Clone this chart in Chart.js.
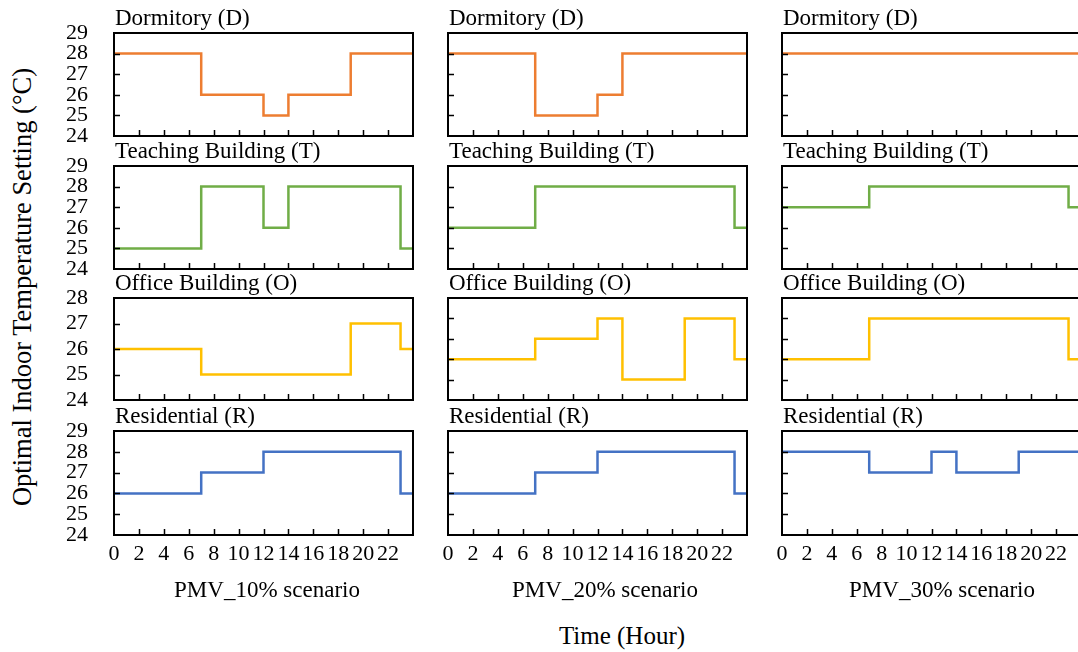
<!DOCTYPE html>
<html>
<head>
<meta charset="utf-8">
<script src="https://cdn.jsdelivr.net/npm/chart.js@4.4.1/dist/chart.umd.min.js"></script>
<style>
  html, body { margin: 0; padding: 0; overflow: hidden; background: #fff; }
  body { width: 1078px; height: 652px; position: relative; font-family: "Liberation Serif", "Times New Roman", serif; color: #000; }
  canvas { position: absolute; }
  .lbl { position: absolute; white-space: nowrap; line-height: 1; }
  .ptitle { font-size: 23px; }
  .scen { font-size: 23px; transform: translateX(-50%); top: 578px; }
  #ytitle { font-size: 26.5px; left: 22px; top: 287px; transform: translate(-50%, -50%) rotate(-90deg); }
  #xtitle { font-size: 25px; left: 622px; top: 623px; transform: translateX(-50%); }
</style>
</head>
<body>
<div id="ytitle" class="lbl">Optimal Indoor Temperature Setting (°C)</div>
<div id="xtitle" class="lbl">Time (Hour)</div>

<script>
'use strict'

// data
const hours = [0, 1, 2, 3, 4, 5, 6, 7, 8, 9, 10, 11, 12, 13, 14, 15, 16, 17, 18, 19, 20, 21, 22, 23];
const hourTicks = [0, 2, 4, 6, 8, 10, 12, 14, 16, 18, 20, 22];
const tempTicks = [24, 25, 26, 27, 28, 29];
const officeTicks10 = [24, 25, 26, 27, 28];

const scenarios = ['PMV_10% scenario', 'PMV_20% scenario', 'PMV_30% scenario'];
const buildings = ['Dormitory (D)', 'Teaching Building (T)', 'Office Building (O)', 'Residential (R)'];
const buildingColors = ['#ED7D31', '#70AD47', '#FFC000', '#4472C4'];

const dorm10   = [28, 28, 28, 28, 28, 28, 28, 26, 26, 26, 26, 26, 25, 25, 26, 26, 26, 26, 26, 28, 28, 28, 28, 28];
const teach10  = [25, 25, 25, 25, 25, 25, 25, 28, 28, 28, 28, 28, 26, 26, 28, 28, 28, 28, 28, 28, 28, 28, 28, 25];
const office10 = [26, 26, 26, 26, 26, 26, 26, 25, 25, 25, 25, 25, 25, 25, 25, 25, 25, 25, 25, 27, 27, 27, 27, 26];
const resid10  = [26, 26, 26, 26, 26, 26, 26, 27, 27, 27, 27, 27, 28, 28, 28, 28, 28, 28, 28, 28, 28, 28, 28, 26];

const dorm20   = [28, 28, 28, 28, 28, 28, 28, 25, 25, 25, 25, 25, 26, 26, 28, 28, 28, 28, 28, 28, 28, 28, 28, 28];
const teach20  = [26, 26, 26, 26, 26, 26, 26, 28, 28, 28, 28, 28, 28, 28, 28, 28, 28, 28, 28, 28, 28, 28, 28, 26];
const office20 = [26, 26, 26, 26, 26, 26, 26, 27, 27, 27, 27, 27, 28, 28, 25, 25, 25, 25, 25, 28, 28, 28, 28, 26];
const resid20  = [26, 26, 26, 26, 26, 26, 26, 27, 27, 27, 27, 27, 28, 28, 28, 28, 28, 28, 28, 28, 28, 28, 28, 26];

const dorm30   = [28, 28, 28, 28, 28, 28, 28, 28, 28, 28, 28, 28, 28, 28, 28, 28, 28, 28, 28, 28, 28, 28, 28, 28];
const teach30  = [27, 27, 27, 27, 27, 27, 27, 28, 28, 28, 28, 28, 28, 28, 28, 28, 28, 28, 28, 28, 28, 28, 28, 27];
const office30 = [26, 26, 26, 26, 26, 26, 26, 28, 28, 28, 28, 28, 28, 28, 28, 28, 28, 28, 28, 28, 28, 28, 28, 26];
const resid30  = [28, 28, 28, 28, 28, 28, 28, 27, 27, 27, 27, 27, 28, 28, 27, 27, 27, 27, 27, 28, 28, 28, 28, 28];

const panels = [
    [dorm10, dorm20, dorm30],
    [teach10, teach20, teach30],
    [office10, office20, office30],
    [resid10, resid20, resid30]
];
const panelTicks = [
    [tempTicks, tempTicks, tempTicks],
    [tempTicks, tempTicks, tempTicks],
    [officeTicks10, tempTicks, tempTicks],
    [tempTicks, tempTicks, tempTicks]
];

// layout
const colLeft = [114, 448, 782];
const boxW = 299;
const rowTop = [33, 166, 298, 431];
const rowH = [103, 103, 102, 104];
const scenCenter = [267, 605, 942];
const LEFT = 60, PAD = 44, PAD_R = 14;
const FONT = 'Liberation Serif';

// box around the plot area plus short inward tick marks
const frame = {
    id: 'frame',
    afterDraw(chart) {
        const {ctx, chartArea: a, scales: {x, y}} = chart;
        ctx.save();
        ctx.strokeStyle = '#000';
        ctx.lineWidth = 1.5;
        ctx.beginPath();
        x.ticks.forEach(t => {
            if (t.value <= x.min || t.value >= x.max) return;
            const px = Math.round(x.getPixelForValue(t.value)) + 0.5;
            ctx.moveTo(px, a.bottom);
            ctx.lineTo(px, a.bottom - 6);
        });
        y.ticks.forEach(t => {
            if (t.value <= y.min || t.value >= y.max) return;
            const py = Math.round(y.getPixelForValue(t.value)) + 0.5;
            ctx.moveTo(a.left, py);
            ctx.lineTo(a.left + 6, py);
        });
        ctx.stroke();
        ctx.lineWidth = 2;
        ctx.strokeRect(a.left, a.top, a.right - a.left, a.bottom - a.top);
        ctx.restore();
    }
};

function addLabel(text, cls, left, top) {
    const d = document.createElement('div');
    d.className = 'lbl ' + cls;
    d.textContent = text;
    d.style.left = left + 'px';
    if (top !== null) d.style.top = top + 'px';
    document.body.appendChild(d);
}

panels.forEach((row, r) => {
    row.forEach((series, c) => {
        const lastRow = r === panels.length - 1;
        const ticks = panelTicks[r][c];

        const canvas = document.createElement('canvas');
        canvas.width = LEFT + boxW + PAD_R;
        canvas.height = PAD + rowH[r] + PAD;
        canvas.style.left = (colLeft[c] - LEFT) + 'px';
        canvas.style.top = (rowTop[r] - PAD) + 'px';
        document.body.appendChild(canvas);

        const pts = hours.map((h, i) => ({x: h, y: series[i]}));
        pts.push({x: 24, y: series[series.length - 1]});

        new Chart(canvas, {
            type: 'line',
            data: {
                datasets: [{
                    data: pts,
                    borderColor: buildingColors[r],
                    borderWidth: 2.5,
                    pointRadius: 0,
                    stepped: 'before',
                    fill: false
                }]
            },
            options: {
                responsive: false,
                animation: false,
                layout: {padding: {top: PAD, right: PAD_R, left: 0, bottom: 0}},
                plugins: {legend: {display: false}, tooltip: {enabled: false}},
                scales: {
                    x: {
                        type: 'linear', min: 0, max: 24,
                        grid: {display: false, drawTicks: false},
                        border: {display: false},
                        ticks: {
                            display: lastRow,
                            stepSize: 2, autoSkip: false, maxRotation: 0, padding: 6,
                            color: '#000', font: {family: FONT, size: 22},
                            callback: v => hourTicks.includes(v) ? String(v) : ''
                        },
                        afterFit: s => { s.height = PAD; }
                    },
                    y: {
                        min: ticks[0], max: ticks[ticks.length - 1],
                        grid: {display: false, drawTicks: false},
                        border: {display: false},
                        ticks: {
                            stepSize: 1, padding: 26, autoSkip: false,
                            color: '#000', font: {family: FONT, size: 22},
                            callback: v => (c === 0 && ticks.includes(v)) ? String(v) : ''
                        },
                        afterFit: s => { s.width = LEFT; }
                    }
                }
            },
            plugins: [frame]
        });

        addLabel(buildings[r], 'ptitle', colLeft[c] + 1, rowTop[r] - 27);
    });
});

scenarios.forEach((s, c) => addLabel(s, 'scen', scenCenter[c], null));
</script>
</body>
</html>
